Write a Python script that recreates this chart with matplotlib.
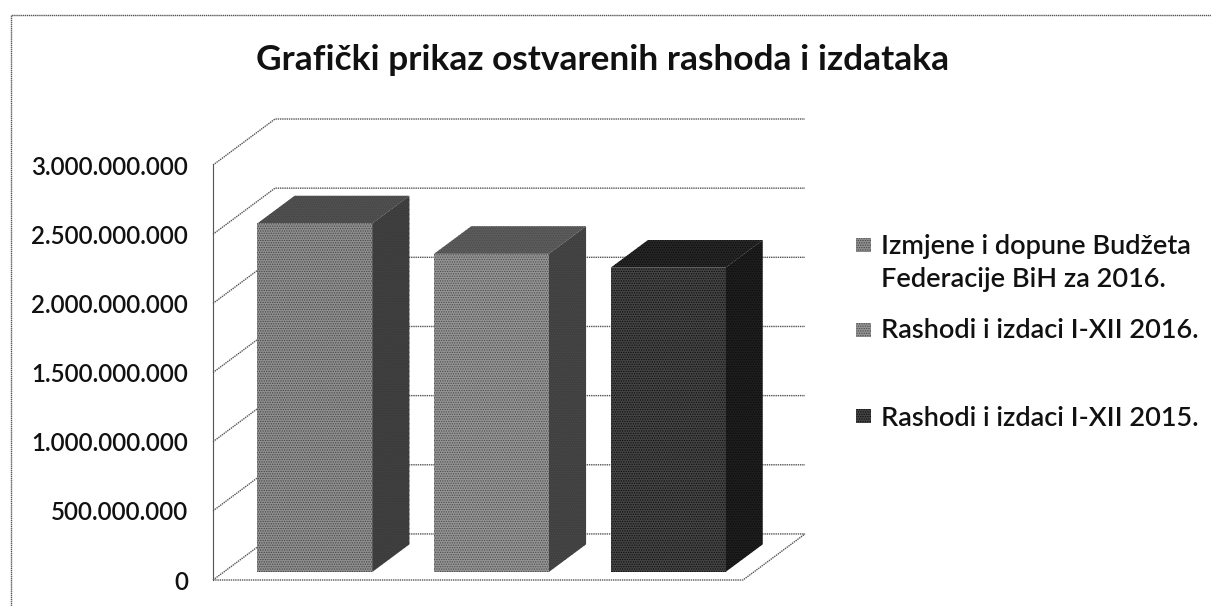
import matplotlib.pyplot as plt
from matplotlib.lines import Line2D
from matplotlib.patches import Polygon

plt.rcParams['font.family'] = 'Lato'
plt.rcParams['hatch.linewidth'] = 0.6

# values
series_names = ['Izmjene i dopune Budžeta\nFederacije BiH za 2016.',
                'Rashodi i izdaci I-XII 2016.',
                'Rashodi i izdaci I-XII 2015.']
values = [2520000000, 2300000000, 2200000000]
tick_values = [0, 500000000, 1000000000, 1500000000, 2000000000, 2500000000, 3000000000]
tick_labels = ['0', '500.000.000', '1.000.000.000', '1.500.000.000', '2.000.000.000',
               '2.500.000.000', '3.000.000.000']
title = 'Grafički prikaz ostvarenih rashoda i izdataka'

W, H = 1211, 606
front_colors = ['#8f8f8f', '#949494', '#444444']
side_colors = ['#3c3c3c', '#404040', '#1e1e1e']
top_colors = ['#505050', '#5c5c5c', '#262626']
hatch_colors = ['#444444', '#4a4a4a', '#0c0c0c']
grid_color = '#555555'

# oblique depth of the 3D box, in data units
depth_x = 0.351
depth_y = 333000000
bar_width = 0.65
bar_shift = 0.015
bar_d0, bar_d1 = 0.174, 0.774


def proj(x, v, d):
    return x + depth_x * d, v + depth_y * d


def face(ax, pts, color, hatch_color):
    ax.add_patch(Polygon(pts, closed=True, facecolor=color, edgecolor=hatch_color,
                         hatch='.......', linewidth=0, zorder=3))


fig = plt.figure(figsize=(W / 100, H / 100), dpi=100)
ax = fig.add_axes([213 / W, 1 - 580 / H, (805 - 213) / W, (580 - 119) / H])
ax.set_xlim(0, 3 + depth_x)
ax.set_ylim(0, 3000000000 + depth_y)
ax.patch.set_visible(False)

for side in ['top', 'right', 'bottom']:
    ax.spines[side].set_visible(False)
ax.spines['left'].set_bounds(0, 3000000000)
ax.spines['left'].set_color(grid_color)
ax.spines['left'].set_linestyle((0, (1, 0.6)))
ax.set_xticks([])
ax.set_yticks(tick_values)
ax.set_yticklabels(tick_labels, fontsize=17.4, color='#111111', fontweight='semibold')
ax.tick_params(axis='y', length=0, pad=18)

# walls and floor
for t in tick_values:
    x0, y0 = proj(0, t, 0)
    x1, y1 = proj(0, t, 1)
    ax.plot([x0, x1, 3 + depth_x], [y0, y1, y1], color=grid_color, lw=1,
            ls=(0, (1, 0.6)), zorder=1, clip_on=False)
x0, y0 = proj(3, 0, 0)
x1, y1 = proj(3, 0, 1)
ax.plot([0, x0, x1], [y0, y0, y1], color=grid_color, lw=1, ls=(0, (1, 0.6)), zorder=1,
        clip_on=False)

# bars
for i, v in enumerate(values):
    left = i + (1 - bar_width) / 2 + bar_shift
    right = left + bar_width
    fl0 = proj(left, 0, bar_d0)
    fr0 = proj(right, 0, bar_d0)
    fl1 = proj(left, v, bar_d0)
    fr1 = proj(right, v, bar_d0)
    br0 = proj(right, 0, bar_d1)
    br1 = proj(right, v, bar_d1)
    bl1 = proj(left, v, bar_d1)
    face(ax, [fr0, br0, br1, fr1], side_colors[i], hatch_colors[i])
    face(ax, [fl1, fr1, br1, bl1], top_colors[i], hatch_colors[i])
    face(ax, [fl0, fr0, fr1, fl1], front_colors[i], hatch_colors[i])

# chart border
fig.add_artist(Line2D([11 / W, 11 / W, 1], [0, 1 - 15 / H, 1 - 15 / H], color='#555555',
                      lw=1, ls=(0, (1, 0.5))))

fig.text(603 / W, 1 - 60 / H, title, fontsize=25.4, fontweight='bold', color='#111111',
         ha='center', va='center')

# legend
legend_y = [245, 330, 416]
text_y = [263, 330, 418]
for i, name in enumerate(series_names):
    fig.add_artist(Polygon([[856 / W, 1 - (legend_y[i] + 7) / H], [871 / W, 1 - (legend_y[i] + 7) / H],
                            [871 / W, 1 - (legend_y[i] - 7) / H], [856 / W, 1 - (legend_y[i] - 7) / H]],
                           closed=True, facecolor=front_colors[i], edgecolor=hatch_colors[i],
                           hatch='.......', linewidth=0, transform=fig.transFigure))
    fig.text(881 / W, 1 - text_y[i] / H, name, fontsize=19.5, fontweight='semibold', color='#111111',
             ha='left', va='center', linespacing=1.38)

fig.savefig('out.png', dpi=100)
